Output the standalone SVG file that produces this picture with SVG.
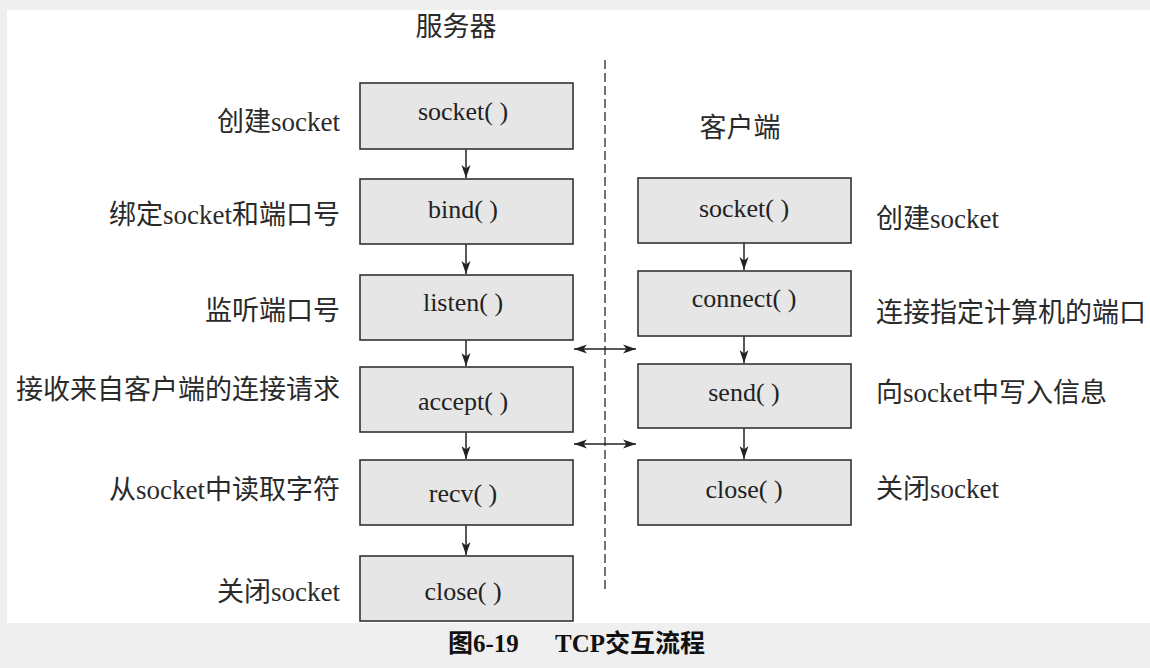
<svg xmlns="http://www.w3.org/2000/svg" width="1150" height="668" viewBox="0 0 1150 668">
  <style>
    .box { fill: #e6e6e6; stroke: #333333; stroke-width: 1.6; }
    .fn { font-family: "Liberation Serif", "Noto Sans CJK SC", serif; font-size: 26px; fill: #222222; text-anchor: middle; }
    .lbl { font-family: "Liberation Serif", "Noto Sans CJK SC", serif; font-size: 27px; fill: #2a2a2a; }
    .lblR { text-anchor: end; }
    .lat { font-family: "Liberation Serif", serif; }
    .head { font-family: "Liberation Serif", "Noto Sans CJK SC", serif; font-size: 27px; fill: #2a2a2a; text-anchor: middle; }
    .cap { font-family: "Liberation Serif", "Noto Sans CJK SC", serif; font-size: 25px; font-weight: bold; fill: #111111; }
    .conn { stroke: #222222; stroke-width: 1.5; fill: none; }
    .dash { stroke: #444444; stroke-width: 1.5; stroke-dasharray: 9 4; fill: none; }
  </style>
  <defs>
    <marker id="ah" viewBox="0 0 13 10" refX="13" refY="5" markerWidth="13" markerHeight="10" markerUnits="userSpaceOnUse" orient="auto-start-reverse">
      <path d="M0,0.5 L13,5 L0,9.5 L3.5,5 Z" fill="#222222"/>
    </marker>
  </defs>
  <rect x="0" y="0" width="1150" height="668" fill="#efefef"/>
  <rect x="7" y="10" width="1143" height="613" fill="#ffffff"/>

  <text class="head" x="456" y="36">服务器</text>
  <text class="head" x="740" y="137">客户端</text>

  <g id="connectors">
    <line class="dash" x1="605" y1="60" x2="605" y2="590"/>
    <line class="conn" x1="466" y1="149" x2="466" y2="178" marker-end="url(#ah)"/>
    <line class="conn" x1="466" y1="244" x2="466" y2="274" marker-end="url(#ah)"/>
    <line class="conn" x1="466" y1="340" x2="466" y2="366" marker-end="url(#ah)"/>
    <line class="conn" x1="466" y1="432" x2="466" y2="459" marker-end="url(#ah)"/>
    <line class="conn" x1="466" y1="525" x2="466" y2="555" marker-end="url(#ah)"/>
    <line class="conn" x1="744" y1="243" x2="744" y2="270" marker-end="url(#ah)"/>
    <line class="conn" x1="744" y1="336" x2="744" y2="363" marker-end="url(#ah)"/>
    <line class="conn" x1="744" y1="428" x2="744" y2="459" marker-end="url(#ah)"/>
    <line class="conn" x1="574" y1="349" x2="636" y2="349" marker-start="url(#ah)" marker-end="url(#ah)"/>
    <line class="conn" x1="574" y1="444" x2="636" y2="444" marker-start="url(#ah)" marker-end="url(#ah)"/>
  </g>

  <g id="s-socket">
    <rect class="box" x="360" y="83" width="213" height="66"/>
    <text class="fn" x="463" y="120">socket( )</text>
    <text class="lbl lblR" x="340" y="131">创建<tspan class="lat">socket</tspan></text>
  </g>
  <g id="s-bind">
    <rect class="box" x="360" y="179" width="213" height="65"/>
    <text class="fn" x="463" y="218">bind( )</text>
    <text class="lbl lblR" x="340" y="224">绑定<tspan class="lat">socket</tspan>和端口号</text>
  </g>
  <g id="s-listen">
    <rect class="box" x="360" y="275" width="213" height="65"/>
    <text class="fn" x="463" y="311">listen( )</text>
    <text class="lbl lblR" x="340" y="320">监听端口号</text>
  </g>
  <g id="s-accept">
    <rect class="box" x="360" y="367" width="213" height="65"/>
    <text class="fn" x="463" y="410">accept( )</text>
    <text class="lbl lblR" x="340" y="399">接收来自客户端的连接请求</text>
  </g>
  <g id="s-recv">
    <rect class="box" x="360" y="460" width="213" height="65"/>
    <text class="fn" x="463" y="502">recv( )</text>
    <text class="lbl lblR" x="340" y="499">从<tspan class="lat">socket</tspan>中读取字符</text>
  </g>
  <g id="s-close">
    <rect class="box" x="360" y="556" width="213" height="65"/>
    <text class="fn" x="463" y="600">close( )</text>
    <text class="lbl lblR" x="340" y="601">关闭<tspan class="lat">socket</tspan></text>
  </g>

  <g id="c-socket">
    <rect class="box" x="638" y="178" width="213" height="65"/>
    <text class="fn" x="744" y="217">socket( )</text>
    <text class="lbl" x="876" y="228">创建<tspan class="lat">socket</tspan></text>
  </g>
  <g id="c-connect">
    <rect class="box" x="638" y="271" width="213" height="65"/>
    <text class="fn" x="744" y="307">connect( )</text>
    <text class="lbl" x="876" y="322">连接指定计算机的端口</text>
  </g>
  <g id="c-send">
    <rect class="box" x="638" y="364" width="213" height="64"/>
    <text class="fn" x="744" y="401">send( )</text>
    <text class="lbl" x="876" y="402">向<tspan class="lat">socket</tspan>中写入信息</text>
  </g>
  <g id="c-close">
    <rect class="box" x="638" y="460" width="213" height="65"/>
    <text class="fn" x="744" y="498">close( )</text>
    <text class="lbl" x="876" y="498">关闭<tspan class="lat">socket</tspan></text>
  </g>

  <text class="cap" x="448" y="652">图6-19<tspan x="555">TCP交互流程</tspan></text>
</svg>
